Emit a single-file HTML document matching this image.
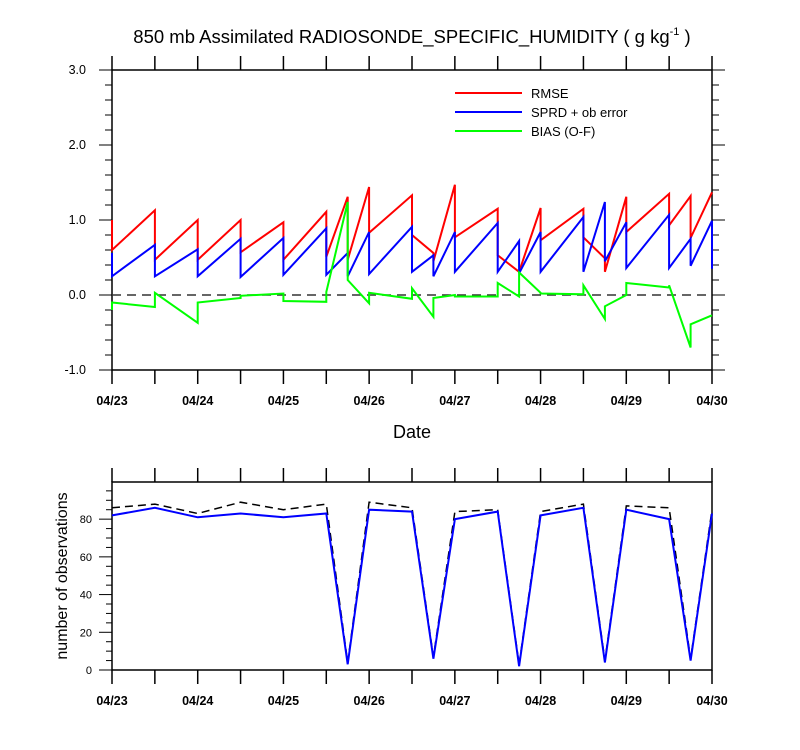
<!DOCTYPE html>
<html><head><meta charset="utf-8"><style>
body{margin:0;background:#fff;}
svg{display:block;font-family:"Liberation Sans",sans-serif;}
</style></head><body>
<svg id="c" width="800" height="750" xmlns="http://www.w3.org/2000/svg"></svg>
<script>
const times=[0,0.5,1,1.5,2,2.5,2.75,3,3.5,3.75,4,4.5,4.75,5,5.5,5.75,6,6.5,6.75,7];
const rmsePrior=[1.0,1.13,1.0,1.0,0.97,1.11,1.31,1.44,1.33,0.56,1.47,1.15,0.31,1.16,1.15,0.49,1.31,1.35,1.32,1.37];
const rmsePost=[0.6,0.47,0.47,0.57,0.47,0.51,0.47,0.83,0.80,0.45,0.77,0.53,0.31,0.73,0.77,0.31,0.84,0.93,0.76,1.37];
const sprdPrior=[0.56,0.67,0.61,0.75,0.76,0.89,0.56,0.84,0.91,0.53,0.84,0.96,0.72,0.84,1.04,1.24,0.97,1.07,0.75,0.99];
const sprdPost=[0.25,0.25,0.25,0.24,0.27,0.27,0.25,0.28,0.31,0.25,0.31,0.31,0.29,0.31,0.31,0.45,0.36,0.36,0.39,0.35];
const biasPrior=[-0.2,-0.16,-0.37,-0.04,0.02,-0.09,1.24,-0.11,-0.05,-0.29,0,-0.02,-0.02,0.03,0.01,-0.32,0,0.1,-0.7,-0.27];
const biasPost=[-0.1,0.03,-0.1,-0.01,-0.08,0.04,0.2,0.03,0.09,-0.04,-0.02,0.16,0.3,0.02,0.13,-0.15,0.16,0.13,-0.39,-0.27];
const nUsed=[82,86,81,83,81,83,3,85,84,6,80,84,2,82,86,4,85,80,5,83];
const nTotal=[86,88,83,89,85,88,4,89,86,7,84,85,3,84,88,5,87,86,6,85];
const dateLabels=["04/23","04/24","04/25","04/26","04/27","04/28","04/29","04/30"];
const topYTicks=["-1.0","0.0","1.0","2.0","3.0"];
const botYTicks=["0","20","40","60","80"];

const NS="http://www.w3.org/2000/svg";
const svg=document.getElementById('c');
function mk(tag,at,parent){const e=document.createElementNS(NS,tag);for(const k in at)e.setAttribute(k,at[k]);(parent||svg).appendChild(e);return e;}
const X0=112,X1=712;
const xs=d=>X0+(X1-X0)*d/7;
const yTop=v=>295-75*v;
const yBot=v=>670-v*(188/99.7);

let t=mk('text',{x:412,y:43,'font-size':18.5,'text-anchor':'middle',fill:'#000'});


t.innerHTML='850 mb Assimilated RADIOSONDE_SPECIFIC_HUMIDITY ( g kg<tspan font-size="11" dy="-8">-1</tspan><tspan dy="8"> )</tspan>';

function frame(top,bot,name){
  const r=mk('rect',{x:X0,y:top,width:X1-X0,height:bot-top,fill:'none',stroke:'#000','stroke-width':1.5});
  
  
  for(let i=0;i<=14;i++){const x=xs(i/2);
    mk('line',{x1:x,x2:x,y1:top,y2:top-14,stroke:'#000','stroke-width':1.5});
    mk('line',{x1:x,x2:x,y1:bot,y2:bot+14,stroke:'#000','stroke-width':1.5});}
  dateLabels.forEach((s,i)=>{const e=mk('text',{x:xs(i),y:bot+35,'font-size':12.5,'font-weight':'bold','text-anchor':'middle'});e.textContent=s;
    
    });
}
function poly(xv,yv,color,w,name,dash){
  const pts=xv.map((x,i)=>x.toFixed(1)+','+yv[i].toFixed(1)).join(' ');
  const p=mk('polyline',{points:pts,fill:'none',stroke:color,'stroke-width':w,'stroke-linejoin':'miter'});
  if(dash)p.setAttribute('stroke-dasharray',dash);
  
  
}
function saw(prior,post){const xv=[],yv=[];times.forEach((d,i)=>{xv.push(xs(d),xs(d));yv.push(yTop(prior[i]),yTop(post[i]));});return [xv,yv];}

frame(70,370,'top-plot-frame');
for(let k=0;k<=20;k++){const v=-1+k*0.2,y=yTop(v),len=(k%5==0)?13:7;
  mk('line',{x1:X0,x2:X0-len,y1:y,y2:y,stroke:'#000'});
  mk('line',{x1:X1,x2:X1+len,y1:y,y2:y,stroke:'#000'});}
topYTicks.forEach((s,i)=>{const e=mk('text',{x:86,y:yTop(-1+i)+4,'font-size':12.5,'text-anchor':'end'});e.textContent=s;
  
  });
let zl=mk('line',{x1:X0,x2:X1,y1:yTop(0),y2:yTop(0),stroke:'#333','stroke-width':1.5,'stroke-dasharray':'9,6'});


let s;
s=saw(rmsePrior,rmsePost);poly(s[0],s[1],'#f00',2,'rmse-line');
s=saw(sprdPrior,sprdPost);poly(s[0],s[1],'#00f',2,'sprd-line');
s=saw(biasPrior,biasPost);poly(s[0],s[1],'#0f0',2,'bias-line');
let xt=mk('text',{x:412,y:438,'font-size':18,'text-anchor':'middle'});xt.textContent='Date';


[['RMSE','#f00',93],['SPRD + ob error','#00f',112],['BIAS (O-F)','#0f0',131]].forEach(l=>{
  const g=mk('g',{});
  
  
  mk('line',{x1:455,x2:522,y1:l[2],y2:l[2],stroke:l[1],'stroke-width':2},g);
  const e=mk('text',{x:531,y:l[2]+5,'font-size':13},g);e.textContent=l[0];});

frame(482,670,'bottom-plot-frame');
for(let v=0;v<=95;v+=5){const y=yBot(v),len=(v%20==0)?13:6;
  mk('line',{x1:X0,x2:X0-len,y1:y,y2:y,stroke:'#000'});}
botYTicks.forEach((sv,i)=>{const e=mk('text',{x:92,y:yBot(i*20)+4,'font-size':11,'text-anchor':'end'});e.textContent=sv;
  
  });
poly(times.map(xs),nTotal.map(yBot),'#000',1.5,'total-obs-line','8,5');
poly(times.map(xs),nUsed.map(yBot),'#00f',2,'used-obs-line');
let yt=mk('text',{x:0,y:0,'font-size':16,'text-anchor':'middle',transform:'translate(67,576) rotate(-90)'});yt.textContent='number of observations';


</script>
</body></html>
